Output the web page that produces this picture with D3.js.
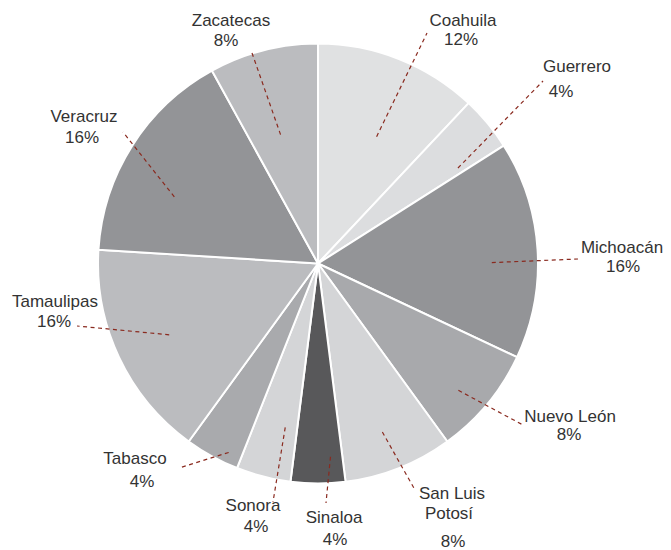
<!DOCTYPE html>
<html>
<head>
<meta charset="utf-8">
<script src="https://cdn.jsdelivr.net/npm/d3@7"></script>
<style>
  body { margin: 0; background: #fff; }
  svg text { font-family: "Liberation Sans", Arial, Helvetica, sans-serif; font-size: 17px; fill: #333; }
</style>
</head>
<body>
<svg id="pieChart"></svg>
<script>
// data, clockwise from 12 o'clock
const states = ["Coahuila", "Guerrero", "Michoacán", "Nuevo León", "San Luis Potosí",
                "Sinaloa", "Sonora", "Tabasco", "Tamaulipas", "Veracruz", "Zacatecas"];
const shares = [12, 4, 16, 8, 8, 4, 4, 4, 16, 16, 8];
const labelLines = [["Coahuila"], ["Guerrero"], ["Michoacán"], ["Nuevo León"], ["San Luis", "Potosí"],
                    ["Sinaloa"], ["Sonora"], ["Tabasco"], ["Tamaulipas"], ["Veracruz"], ["Zacatecas"]];

// fills per slice
const sliceColors = ["#e0e1e2", "#dcdddf", "#939497", "#a8a9ac", "#d4d5d7",
                     "#58585a", "#d4d5d7", "#a9aaad", "#bbbcbf", "#939497", "#bbbcbf"];

// label layout: text lines [x, baseline], leader start (deg, radius fraction), leader end
const labelLayout = [
  { txt: [[463, 26], [461, 45]],            from: [24.8, 0.635], to: [427, 33] },
  { txt: [[577, 72], [561, 97]],            from: [55.7, 0.77],  to: [543, 81] },
  { txt: [[622, 253], [623, 272]],          from: [89.7, 0.79],  to: [578, 259] },
  { txt: [[570, 422], [569, 440]],          from: [132.1, 0.86], to: [523, 425] },
  { txt: [[452, 499], [449, 519], [453, 547]], from: [159.1, 0.82], to: [415, 490] },
  { txt: [[334, 523], [335, 545]],          from: [176.3, 0.88], to: [326, 503] },
  { txt: [[253, 511], [256, 532]],          from: [191.3, 0.76], to: [273, 502] },
  { txt: [[135, 464], [142, 487]],          from: [205.3, 0.95], to: [179, 468] },
  { txt: [[55, 307], [54, 327]],            from: [244.4, 0.75], to: [77, 326] },
  { txt: [[84, 122], [82, 143]],            from: [294.9, 0.72], to: [123, 132] },
  { txt: [[231, 26], [226, 46]],            from: [343.8, 0.61], to: [252, 53] }
];

const width = 671, height = 550;
const cx = 318, cy = 263.5, radius = 220;

const svg = d3.select("#pieChart")
  .attr("width", width)
  .attr("height", height);

const g = svg.append("g")
  .attr("transform", `translate(${cx},${cy})`);

const pie = d3.pie().sort(null).value(d => d);
const arc = d3.arc().innerRadius(0).outerRadius(radius);
const arcs = pie(shares);

// slices
g.selectAll("path.slice")
  .data(arcs)
  .join("path")
  .attr("class", "slice")
  .attr("d", arc)
  .attr("fill", (d, i) => sliceColors[i])
  .attr("stroke", "#fff")
  .attr("stroke-width", 2)
  .attr("stroke-linejoin", "round");

// leader lines
g.selectAll("line.leader")
  .data(arcs)
  .join("line")
  .attr("class", "leader")
  .each(function(d, i) {
    const lay = labelLayout[i];
    const p = d3.pointRadial(lay.from[0] * Math.PI / 180, radius * lay.from[1]);
    d3.select(this)
      .attr("x1", p[0]).attr("y1", p[1])
      .attr("x2", lay.to[0] - cx).attr("y2", lay.to[1] - cy);
  })
  .attr("stroke", "#8a2a1f")
  .attr("stroke-width", 1.2)
  .attr("stroke-dasharray", "4,3.5");

// labels
const labels = svg.append("g");
states.forEach((s, i) => {
  const lines = labelLines[i].concat([shares[i] + "%"]);
  lines.forEach((t, j) => {
    const pos = labelLayout[i].txt[j];
    labels.append("text")
      .attr("x", pos[0])
      .attr("y", pos[1])
      .attr("text-anchor", "middle")
      .text(t);
  });
});
</script>
</body>
</html>
